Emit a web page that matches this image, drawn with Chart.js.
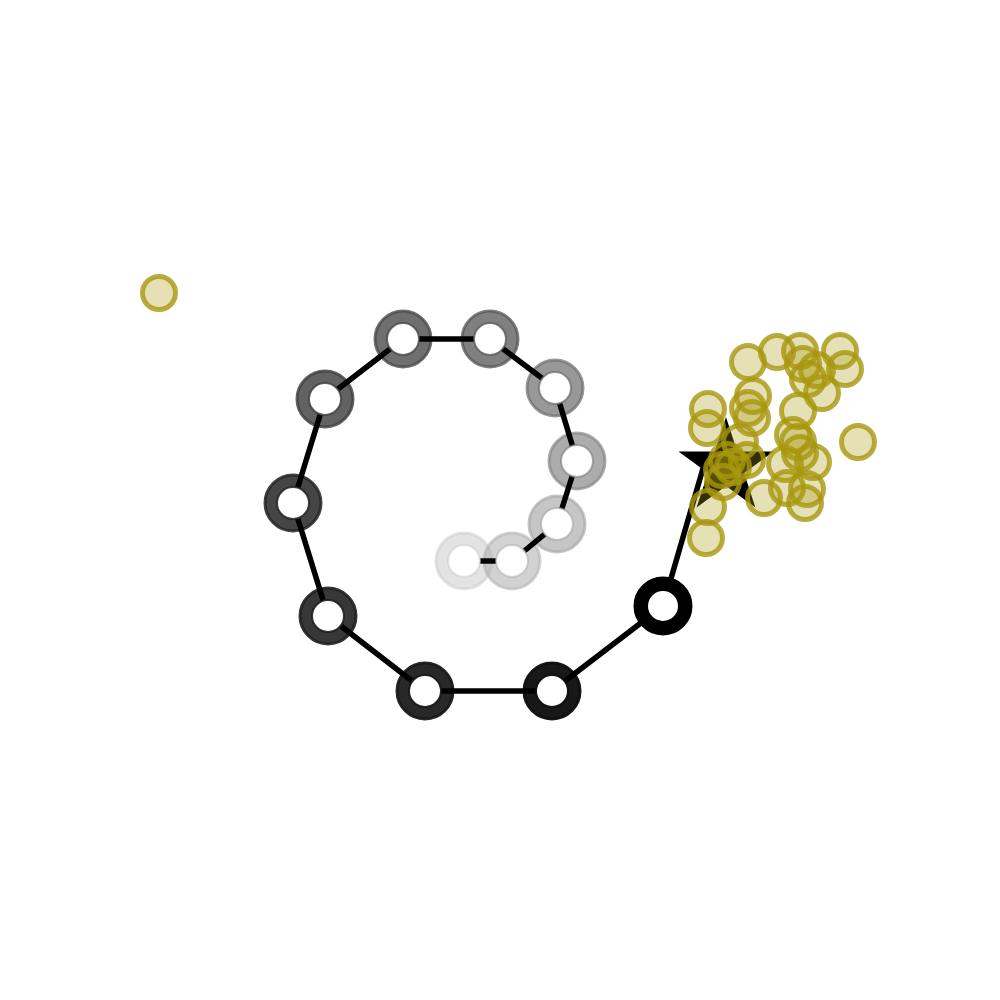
<!DOCTYPE html>
<html>
<head>
<meta charset="utf-8">
<script src="https://cdn.jsdelivr.net/npm/chart.js@4.4.1/dist/chart.umd.min.js"></script>
<style>
html,body{margin:0;padding:0;background:#ffffff;}
#c{display:block;}
</style>
</head>
<body>
<canvas id="c" width="1000" height="1000"></canvas>
<script>
// Trajectory (iterates), light to dark
const pathX = [4.64, 5.12, 5.57, 5.77, 5.55, 4.90, 4.03, 3.25, 2.93, 3.28, 4.25, 5.52, 6.63];
const pathY = [4.39, 4.39, 4.76, 5.39, 6.12, 6.61, 6.61, 6.01, 4.97, 3.84, 3.09, 3.09, 3.94];
// final segment end (no marker)
const endX = [7.04];
const endY = [5.35];
// optimum (star)
const starX = [7.26];
const starY = [5.33];
// samples
const sampleX = [1.59, 7.48, 7.77, 8.00, 8.40, 8.45, 8.03, 8.17, 8.08, 8.22, 7.53, 7.48, 7.52, 7.08, 7.07,
                 7.98, 8.58, 7.93, 7.98, 8.00, 8.13, 7.85, 7.87, 8.07, 8.05, 7.64, 7.40, 7.47, 7.27, 7.33,
                 7.22, 7.23, 7.08, 7.06];
const sampleY = [7.07, 6.38, 6.48, 6.49, 6.49, 6.31, 6.36, 6.30, 6.21, 6.07, 6.04, 5.92, 5.82, 5.91, 5.72,
                 5.89, 5.58, 5.65, 5.58, 5.47, 5.38, 5.36, 5.12, 5.11, 4.97, 5.02, 5.58, 5.40, 5.40, 5.33,
                 5.30, 5.18, 4.93, 4.62];

// styles
const ringRGB = [204, 179, 164, 129, 108, 83, 70, 61, 37, 30, 23, 15, 0];
const ringAlpha = [0.55, 0.59, 0.625, 0.66, 0.70, 0.74, 0.775, 0.81, 0.85, 0.89, 0.925, 0.96, 1.0];
const ringColors = ringRGB.map((g, i) => `rgba(${g},${g},${g},${ringAlpha[i]})`);

const pathPts = pathX.map((x, i) => ({x, y: pathY[i]}));
const linePts = pathPts.concat(endX.map((x, i) => ({x, y: endY[i]})));
const starPts = starX.map((x, i) => ({x, y: starY[i]}));
const samplePts = sampleX.map((x, i) => ({x, y: sampleY[i]}));

// star marker image
function makeStar(R) {
  const s = Math.ceil(R * 2 + 4);
  const cv = document.createElement('canvas');
  cv.width = s; cv.height = s;
  const g = cv.getContext('2d');
  const cx = s / 2, cy = s / 2, r = R * 0.381966;
  g.beginPath();
  for (let k = 0; k < 10; k++) {
    const rad = k % 2 === 0 ? R : r;
    const a = -Math.PI / 2 + k * Math.PI / 5;
    const px = cx + rad * Math.cos(a), py = cy + rad * Math.sin(a);
    if (k === 0) g.moveTo(px, py); else g.lineTo(px, py);
  }
  g.closePath();
  g.fillStyle = '#000000';
  g.fill();
  return cv;
}
const starImg = makeStar(50);

new Chart(document.getElementById('c'), {
  type: 'scatter',
  data: {
    datasets: [
      { // samples on top
        data: samplePts,
        order: 1,
        pointRadius: 16.5,
        pointBorderWidth: 5,
        pointBackgroundColor: 'rgba(168,151,14,0.30)',
        pointBorderColor: 'rgba(168,151,14,0.80)',
        clip: false
      },
      { // white centres
        data: pathPts,
        order: 2,
        pointRadius: 16,
        pointBorderWidth: 2,
        pointBackgroundColor: '#ffffff',
        pointBorderColor: ringColors,
        clip: false
      },
      { // connecting line
        data: linePts,
        order: 3,
        showLine: true,
        borderColor: '#000000',
        borderWidth: 5.5,
        pointRadius: 0,
        tension: 0,
        fill: false,
        clip: false
      },
      { // star
        data: starPts,
        order: 4,
        pointStyle: starImg,
        pointRadius: 50,
        clip: false
      },
      { // rings
        data: pathPts,
        order: 5,
        pointRadius: 28,
        pointBorderWidth: 3,
        pointBackgroundColor: ringColors,
        pointBorderColor: ringColors,
        clip: false
      }
    ]
  },
  options: {
    responsive: false,
    animation: false,
    devicePixelRatio: 1,
    layout: { padding: 0, autoPadding: false },
    events: [],
    plugins: { legend: { display: false }, tooltip: { enabled: false } },
    scales: {
      x: { type: 'linear', min: 0, max: 10, display: false },
      y: { type: 'linear', min: 0, max: 10, display: false }
    }
  }
});
</script>
</body>
</html>
